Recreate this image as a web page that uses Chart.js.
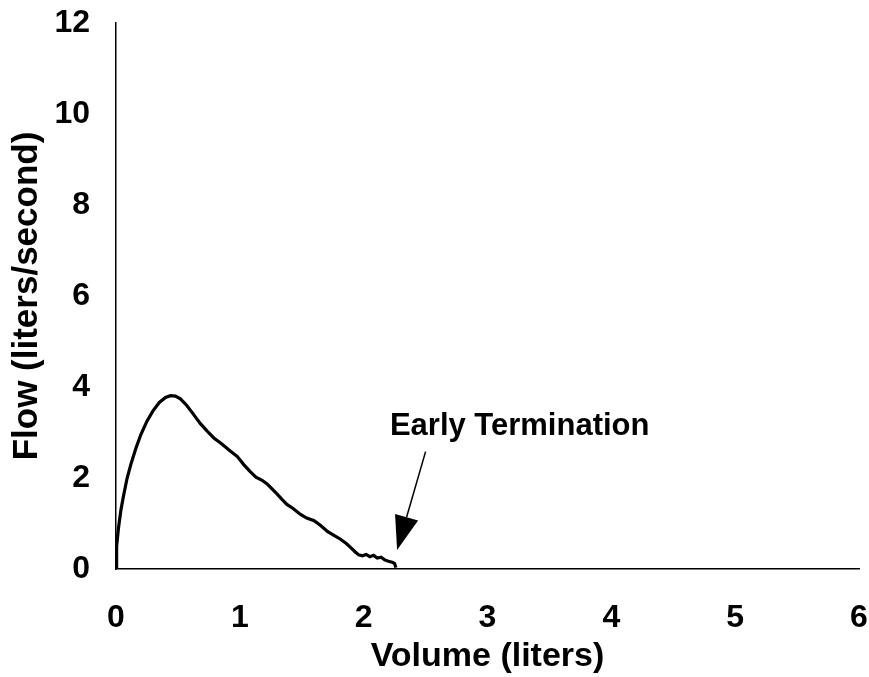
<!DOCTYPE html>
<html>
<head>
<meta charset="utf-8">
<script src="https://cdn.jsdelivr.net/npm/chart.js@4"></script>
<style>
  body { margin: 0; background: #fff; }
  canvas { display: block; }
</style>
</head>
<body>
<canvas id="flow-chart" width="869" height="677"></canvas>
<script>
// spirometry trace
const volume = [0, 0.005, 0.02, 0.04, 0.06, 0.09, 0.12, 0.16, 0.2, 0.25, 0.3, 0.35, 0.4, 0.44, 0.48,
  0.52, 0.57, 0.62, 0.68, 0.74, 0.79, 0.85, 0.92, 0.98, 1.03, 1.08, 1.13, 1.18, 1.22, 1.26,
  1.30, 1.34, 1.38, 1.43, 1.49, 1.54, 1.6, 1.65, 1.71, 1.76, 1.81, 1.86, 1.9, 1.93, 1.96,
  1.99, 2.02, 2.05, 2.08, 2.11, 2.14, 2.17, 2.2, 2.23, 2.25, 2.26];
const flow = [0, 0.5, 0.9, 1.3, 1.6, 2.0, 2.3, 2.65, 2.95, 3.25, 3.48, 3.66, 3.77, 3.81, 3.80,
  3.74, 3.6, 3.42, 3.2, 3.02, 2.88, 2.76, 2.6, 2.47, 2.3, 2.15, 2.02, 1.95, 1.87, 1.76,
  1.65, 1.53, 1.42, 1.33, 1.2, 1.12, 1.06, 0.96, 0.82, 0.74, 0.66, 0.56, 0.46, 0.38, 0.31,
  0.29, 0.32, 0.27, 0.3, 0.24, 0.26, 0.2, 0.17, 0.15, 0.12, 0.03];

// annotation (in data units)
const noteText = 'Early Termination';
const notePos = [3.26, 3.13];
const arrowFrom = [2.5, 2.58];
const arrowTo = [2.27, 0.42];

const FONT = '"Liberation Sans", Arial, sans-serif';

// draws the "Early Termination" label and arrow
const notePlugin = {
  id: 'note',
  afterDraw(chart) {
    const { ctx, scales: { x, y } } = chart;
    ctx.save();
    ctx.fillStyle = '#000';
    ctx.strokeStyle = '#000';
    ctx.font = 'bold 31px ' + FONT;
    ctx.textAlign = 'center';
    ctx.textBaseline = 'middle';
    ctx.fillText(noteText, x.getPixelForValue(notePos[0]), y.getPixelForValue(notePos[1]));

    const x1 = x.getPixelForValue(arrowFrom[0]), y1 = y.getPixelForValue(arrowFrom[1]);
    const x2 = x.getPixelForValue(arrowTo[0]), y2 = y.getPixelForValue(arrowTo[1]);
    const ang = Math.atan2(y2 - y1, x2 - x1);
    const headLen = 34, headW = 12;
    const bx = x2 - headLen * Math.cos(ang), by = y2 - headLen * Math.sin(ang);
    ctx.lineWidth = 1.5;
    ctx.beginPath();
    ctx.moveTo(x1, y1);
    ctx.lineTo(bx, by);
    ctx.stroke();
    ctx.beginPath();
    ctx.moveTo(x2, y2);
    ctx.lineTo(bx + headW * Math.sin(ang), by - headW * Math.cos(ang));
    ctx.lineTo(bx - headW * Math.sin(ang), by + headW * Math.cos(ang));
    ctx.closePath();
    ctx.fill();
    ctx.restore();
  }
};

// keep the plot area where the reference has it
const noPad = (s) => { s.paddingTop = 0; s.paddingBottom = 0; s.paddingLeft = 0; s.paddingRight = 0; };

const ctx = document.getElementById('flow-chart').getContext('2d');
new Chart(ctx, {
  type: 'scatter',
  data: {
    datasets: [{
      data: volume.map((v, i) => ({ x: v, y: flow[i] })),
      showLine: true,
      borderColor: '#000',
      borderWidth: 3.2,
      pointRadius: 0,
      tension: 0,
    }],
  },
  options: {
    responsive: false,
    animation: false,
    layout: { padding: { top: 23, right: 10, left: 0, bottom: 0 } },
    plugins: { legend: { display: false }, tooltip: { enabled: false } },
    scales: {
      x: {
        type: 'linear',
        min: 0,
        max: 6,
        afterFit: (s) => { s.height = 108; noPad(s); },
        grid: { display: false, drawTicks: false },
        border: { display: true, color: '#000', width: 1.5 },
        ticks: { stepSize: 1, padding: 30, color: '#000', font: { family: FONT, size: 32, weight: 'bold' } },
        title: {
          display: true,
          text: 'Volume (liters)',
          color: '#000',
          font: { family: FONT, size: 34, weight: 'bold' },
          padding: { top: 0, bottom: 0 },
        },
      },
      y: {
        type: 'linear',
        min: 0,
        max: 12,
        afterFit: (s) => { s.width = 116; noPad(s); },
        grid: { display: false, drawTicks: false },
        border: { display: true, color: '#000', width: 1.5 },
        ticks: { stepSize: 2, padding: 26, color: '#000', font: { family: FONT, size: 32, weight: 'bold' } },
        title: {
          display: true,
          text: 'Flow (liters/second)',
          color: '#000',
          font: { family: FONT, size: 35, weight: 'bold' },
          padding: { top: 6, bottom: 0 },
        },
      },
    },
  },
  plugins: [notePlugin],
});
</script>
</body>
</html>
